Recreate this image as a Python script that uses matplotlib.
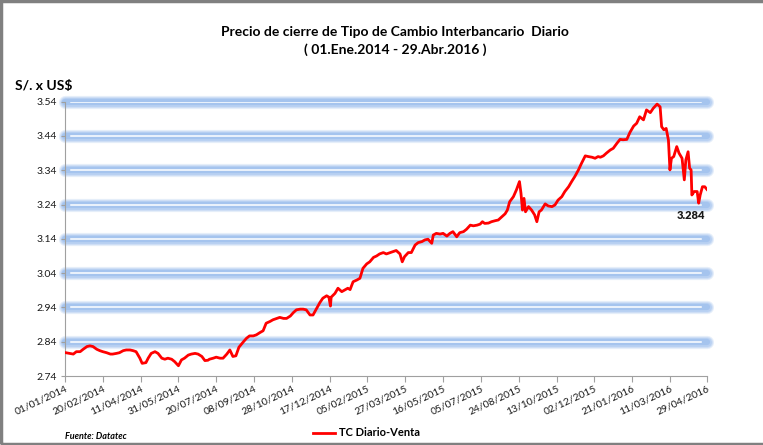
import pandas as pd
import matplotlib.pyplot as plt
import matplotlib.dates as mdates
from matplotlib.patches import Rectangle

plt.rcParams['font.family'] = ['Lato', 'DejaVu Sans']

# tipo de cambio interbancario diario (lectura aproximada del grafico)
fechas = [
    '2014-01-02', '2014-01-07', '2014-01-12', '2014-01-16', '2014-01-21', '2014-01-25',
    '2014-01-30', '2014-02-03', '2014-02-07', '2014-02-12', '2014-02-16', '2014-02-20',
    '2014-02-25', '2014-03-02', '2014-03-05', '2014-03-10', '2014-03-14', '2014-03-19',
    '2014-03-23', '2014-03-28', '2014-04-01', '2014-04-05', '2014-04-10', '2014-04-13',
    '2014-04-18', '2014-04-21', '2014-04-25', '2014-04-30', '2014-05-04', '2014-05-09',
    '2014-05-13', '2014-05-17', '2014-05-22', '2014-05-26', '2014-05-31', '2014-06-04',
    '2014-06-08', '2014-06-13', '2014-06-17', '2014-06-22', '2014-06-26', '2014-07-01',
    '2014-07-05', '2014-07-09', '2014-07-11', '2014-07-16', '2014-07-20', '2014-07-25',
    '2014-07-29', '2014-08-03', '2014-08-07', '2014-08-11', '2014-08-15', '2014-08-19',
    '2014-08-25', '2014-08-29', '2014-09-02', '2014-09-07', '2014-09-11', '2014-09-16',
    '2014-09-20', '2014-09-24', '2014-09-29', '2014-10-03', '2014-10-08', '2014-10-12',
    '2014-10-17', '2014-10-21', '2014-10-26', '2014-10-30', '2014-11-03', '2014-11-08',
    '2014-11-12', '2014-11-16', '2014-11-21', '2014-11-25', '2014-11-30', '2014-12-04',
    '2014-12-08', '2014-12-13', '2014-12-16', '2014-12-18', '2014-12-19', '2014-12-24',
    '2014-12-28', '2015-01-02', '2015-01-06', '2015-01-10', '2015-01-13', '2015-01-17',
    '2015-01-22', '2015-01-26', '2015-01-30', '2015-02-04', '2015-02-08', '2015-02-13',
    '2015-02-17', '2015-02-21', '2015-02-26', '2015-03-02', '2015-03-07', '2015-03-11',
    '2015-03-15', '2015-03-20', '2015-03-23', '2015-03-26', '2015-03-31', '2015-04-04',
    '2015-04-09', '2015-04-13', '2015-04-18', '2015-04-22', '2015-04-26', '2015-05-01',
    '2015-05-03', '2015-05-07', '2015-05-12', '2015-05-16', '2015-05-21', '2015-05-25',
    '2015-05-29', '2015-06-03', '2015-06-07', '2015-06-12', '2015-06-16', '2015-06-21',
    '2015-06-25', '2015-06-30', '2015-07-04', '2015-07-07', '2015-07-10', '2015-07-15',
    '2015-07-19', '2015-07-24', '2015-07-28', '2015-08-01', '2015-08-06', '2015-08-09',
    '2015-08-12', '2015-08-17', '2015-08-21', '2015-08-25', '2015-08-27', '2015-08-29',
    '2015-08-31', '2015-09-02', '2015-09-06', '2015-09-10', '2015-09-14', '2015-09-17',
    '2015-09-20', '2015-09-23', '2015-09-28', '2015-10-02', '2015-10-07', '2015-10-11',
    '2015-10-15', '2015-10-20', '2015-10-24', '2015-10-29', '2015-11-02', '2015-11-06',
    '2015-11-11', '2015-11-15', '2015-11-20', '2015-11-24', '2015-11-29', '2015-12-03',
    '2015-12-07', '2015-12-10', '2015-12-14', '2015-12-18', '2015-12-23', '2015-12-27',
    '2016-01-01', '2016-01-05', '2016-01-09', '2016-01-14', '2016-01-18', '2016-01-23',
    '2016-01-27', '2016-01-31', '2016-02-05', '2016-02-09', '2016-02-14', '2016-02-18',
    '2016-02-23', '2016-02-27', '2016-02-29', '2016-03-03', '2016-03-06', '2016-03-09',
    '2016-03-11', '2016-03-13', '2016-03-16', '2016-03-20', '2016-03-23', '2016-03-27',
    '2016-03-30', '2016-04-01', '2016-04-04', '2016-04-06', '2016-04-08', '2016-04-09',
    '2016-04-12', '2016-04-16', '2016-04-18', '2016-04-20', '2016-04-23', '2016-04-26',
    '2016-04-29',
]
tc_venta = [
    2.808, 2.806, 2.804, 2.811, 2.811, 2.818,
    2.826, 2.828, 2.826, 2.818, 2.814, 2.811,
    2.808, 2.804, 2.804, 2.806, 2.808, 2.814,
    2.816, 2.816, 2.814, 2.811, 2.792, 2.777,
    2.779, 2.792, 2.806, 2.811, 2.806, 2.792,
    2.789, 2.792, 2.789, 2.782, 2.770, 2.787,
    2.792, 2.801, 2.804, 2.806, 2.804, 2.797,
    2.785, 2.786, 2.789, 2.792, 2.795, 2.792,
    2.792, 2.804, 2.816, 2.797, 2.799, 2.824,
    2.840, 2.850, 2.857, 2.857, 2.860, 2.867,
    2.872, 2.894, 2.899, 2.904, 2.908, 2.911,
    2.908, 2.908, 2.915, 2.925, 2.933, 2.935,
    2.935, 2.933, 2.918, 2.918, 2.938, 2.954,
    2.967, 2.974, 2.970, 2.944, 2.970, 2.981,
    2.996, 2.986, 2.991, 2.996, 2.992, 3.015,
    3.020, 3.025, 3.054, 3.067, 3.073, 3.086,
    3.090, 3.096, 3.100, 3.096, 3.100, 3.103,
    3.106, 3.096, 3.073, 3.088, 3.100, 3.100,
    3.122, 3.129, 3.132, 3.137, 3.139, 3.127,
    3.151, 3.156, 3.154, 3.156, 3.148, 3.156,
    3.161, 3.146, 3.158, 3.161, 3.168, 3.180,
    3.178, 3.180, 3.183, 3.190, 3.185, 3.186,
    3.190, 3.193, 3.195, 3.203, 3.213, 3.224,
    3.248, 3.263, 3.283, 3.307, 3.273, 3.224,
    3.258, 3.219, 3.234, 3.224, 3.210, 3.190,
    3.219, 3.224, 3.242, 3.236, 3.234, 3.239,
    3.253, 3.263, 3.278, 3.292, 3.307, 3.321,
    3.341, 3.360, 3.382, 3.380, 3.378, 3.375,
    3.380, 3.378, 3.382, 3.390, 3.399, 3.404,
    3.419, 3.430, 3.429, 3.430, 3.450, 3.469,
    3.477, 3.496, 3.487, 3.516, 3.508, 3.521,
    3.533, 3.525, 3.467, 3.458, 3.462, 3.428,
    3.341, 3.375, 3.380, 3.409, 3.390, 3.375,
    3.312, 3.370, 3.394, 3.346, 3.341, 3.268,
    3.278, 3.278, 3.244, 3.268, 3.292, 3.292,
    3.284,
]

etiquetas_x = ['01/01/2014', '20/02/2014', '11/04/2014', '31/05/2014', '20/07/2014',
               '08/09/2014', '28/10/2014', '17/12/2014', '05/02/2015', '27/03/2015',
               '16/05/2015', '05/07/2015', '24/08/2015', '13/10/2015', '02/12/2015',
               '21/01/2016', '11/03/2016', '29/04/2016']
niveles_y = [2.74, 2.84, 2.94, 3.04, 3.14, 3.24, 3.34, 3.44, 3.54]

serie = pd.Series(tc_venta, index=pd.to_datetime(fechas))
ticks_x = pd.to_datetime(etiquetas_x, dayfirst=True)

fig = plt.figure(figsize=(7.63, 4.45), dpi=100)
ax = fig.add_axes([0.0852, 0.155, 0.8414, 0.6165])

# bandas azules con brillo (estilo excel)
for y in niveles_y[1:]:
    for lw, a in [(9.5, 0.18), (8, 0.22), (6.5, 0.25), (4.5, 0.3)]:
        ax.axhline(y, color='#7aa8e8', lw=lw, alpha=a, solid_capstyle='round',
                   clip_on=False, zorder=1)
    ax.axhline(y, xmin=0.01, xmax=0.99, color='white', lw=1.1, zorder=2)

ax.plot(serie.index, serie.values, color='#ff0000', lw=2, zorder=3,
        label='TC Diario-Venta')

ax.set_xlim(ticks_x[0], ticks_x[-1])
ax.set_ylim(niveles_y[0], niveles_y[-1])
ax.set_yticks(niveles_y)
ax.set_yticklabels([f'{v:.2f}' for v in niveles_y])
ax.set_xticks(ticks_x)
ax.set_xticklabels(etiquetas_x, rotation=25, ha='right', rotation_mode='anchor')

for s in ['top', 'right']:
    ax.spines[s].set_visible(False)
ax.spines['left'].set_color('#a0a0a0')
ax.spines['left'].set_linestyle((0, (1, 1)))
ax.spines['left'].set_linewidth(0.8)
ax.spines['bottom'].set_color('#a0a0a0')
ax.spines['bottom'].set_linewidth(0.8)
ax.tick_params(axis='x', length=4, color='#a0a0a0', labelsize=7.5, labelcolor='#1a1a1a', pad=2)
ax.tick_params(axis='y', length=3, color='#a0a0a0', labelsize=7.5, labelcolor='#1a1a1a', pad=3)

ultimo = serie.iloc[-1]
ax.annotate(f'{ultimo:.3f}', xy=(serie.index[-1], ultimo), xytext=(-16, -26),
            textcoords='offset pixels', ha='center', va='center',
            fontsize=8, fontweight='heavy', color='#1a1a1a')

fig.text(0.518, 0.928, 'Precio de cierre de Tipo de Cambio Interbancario  Diario',
         ha='center', va='center', fontsize=10, fontweight='bold')
fig.text(0.518, 0.889, '( 01.Ene.2014 - 29.Abr.2016 )',
         ha='center', va='center', fontsize=10, fontweight='bold')
fig.text(0.02, 0.806, 'S/. x US$', ha='left', va='center', fontsize=10, fontweight='bold')
fig.text(0.085, 0.02, 'Fuente: Datatec', ha='left', va='center', fontsize=6.5,
         fontweight='bold', fontstyle='italic')

fig.legend(loc='center', bbox_to_anchor=(0.48, 0.027), frameon=False,
           prop={'size': 8, 'weight': 'bold'}, handlelength=2, handletextpad=0.3)

fig.patches.append(Rectangle((0.001, 0.003), 1.2, 0.994, transform=fig.transFigure,
                             fill=False, edgecolor='#808080', lw=2.5))

fig.savefig('out.png', dpi=100)
